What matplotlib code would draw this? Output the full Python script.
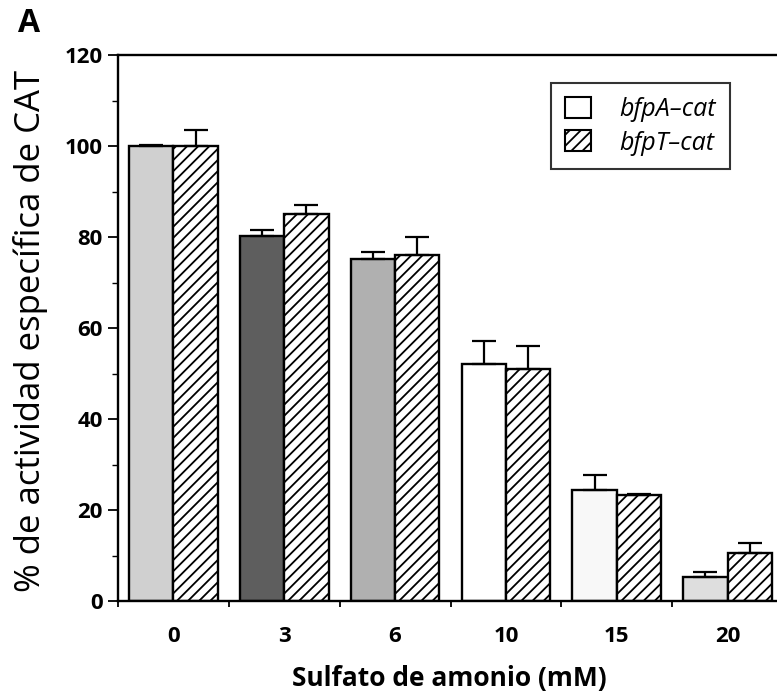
import matplotlib
matplotlib.use("Agg")
import matplotlib.pyplot as plt
import numpy as np
from matplotlib.patches import Patch
from matplotlib.ticker import MultipleLocator

categories = ["0", "3", "6", "10", "15", "20"]
bfpA = [100, 80.2, 75.1, 52, 24.3, 5.3]
bfpA_err = [0.3, 1.3, 1.5, 5.2, 3.3, 1.0]
bfpT = [100, 85, 76, 51, 23.3, 10.5]
bfpT_err = [3.6, 2.0, 4.0, 5.0, 0.3, 2.3]
series_names = ["bfpA\u2013cat", "bfpT\u2013cat"]

bfpA_faces = ["#d0d0d0", "#5e5e5e", "#b0b0b0", "#ffffff", "#f8f8f8", "#dedede"]

plt.rcParams['font.family'] = ['Open Sans', 'DejaVu Sans']
plt.rcParams['hatch.linewidth'] = 1.3

W, H = 777, 696
fig = plt.figure(figsize=(W / 100, H / 100), dpi=100)
left_px, right_px, top_px, bot_px = 118, 783, 55, 601
ax = fig.add_axes([left_px / W, 1 - bot_px / H, (right_px - left_px) / W, (bot_px - top_px) / H])

x = np.arange(len(categories))
bw = 0.40
ekw = dict(ecolor='black', elinewidth=1.6, capsize=8.5, capthick=1.6)
ax.bar(x - bw / 2, bfpA, width=bw, color=bfpA_faces, edgecolor='black', linewidth=1.7,
       yerr=[np.zeros(len(bfpA)), bfpA_err], error_kw=ekw, zorder=2)
ax.bar(x + bw / 2, bfpT, width=bw, color='white', edgecolor='black', linewidth=1.7,
       hatch='///', yerr=[np.zeros(len(bfpT)), bfpT_err], error_kw=ekw, zorder=2)

ax.set_xlim(-0.5, len(categories) - 0.5)
ax.set_ylim(0, 120)
ax.yaxis.set_major_locator(MultipleLocator(20))
ax.yaxis.set_minor_locator(MultipleLocator(10))
ax.tick_params(axis='y', which='major', direction='out', length=7, width=1.3, labelsize=16, pad=4)
ax.tick_params(axis='y', which='minor', direction='out', length=4, width=1.0)
for lab in ax.get_yticklabels():
    lab.set_fontweight('bold')

ax.set_xticks(x)
ax.set_xticklabels(categories, fontsize=16, fontweight='bold')
ax.set_xticks(np.arange(-0.5, len(categories), 1.0), minor=True)
ax.tick_params(axis='x', which='major', length=0, pad=18)
ax.tick_params(axis='x', which='minor', direction='out', length=4, width=1.3)

for s in ['left', 'bottom', 'top']:
    ax.spines[s].set_linewidth(1.7)
ax.spines['right'].set_visible(False)

ax.set_xlabel("Sulfato de amonio (mM)", fontsize=19, fontweight='bold', va='top')
ax.xaxis.set_label_coords(0.4985, -0.117)
ax.set_ylabel("% de actividad específica de CAT", fontsize=25)
ax.yaxis.set_label_coords(-0.105, 0.495)

handles = [Patch(facecolor='white', edgecolor='black', linewidth=1.5),
           Patch(facecolor='white', edgecolor='black', linewidth=1.5, hatch='///')]
leg = ax.legend(handles, series_names, loc='upper right', bbox_to_anchor=(730 / W, 1 - 83 / H),
                bbox_transform=fig.transFigure,
                prop={'style': 'italic', 'size': 18},
                frameon=True, fancybox=False, edgecolor='black', handlelength=1.05, handleheight=0.92,
                borderpad=0.55, labelspacing=0.34, handletextpad=1.15, borderaxespad=0)
leg.get_frame().set_linewidth(1.5)

fig.text(18 / W, 1 - 32 / H, "A", fontsize=23, fontweight='bold')

fig.savefig("out.png", dpi=100)
